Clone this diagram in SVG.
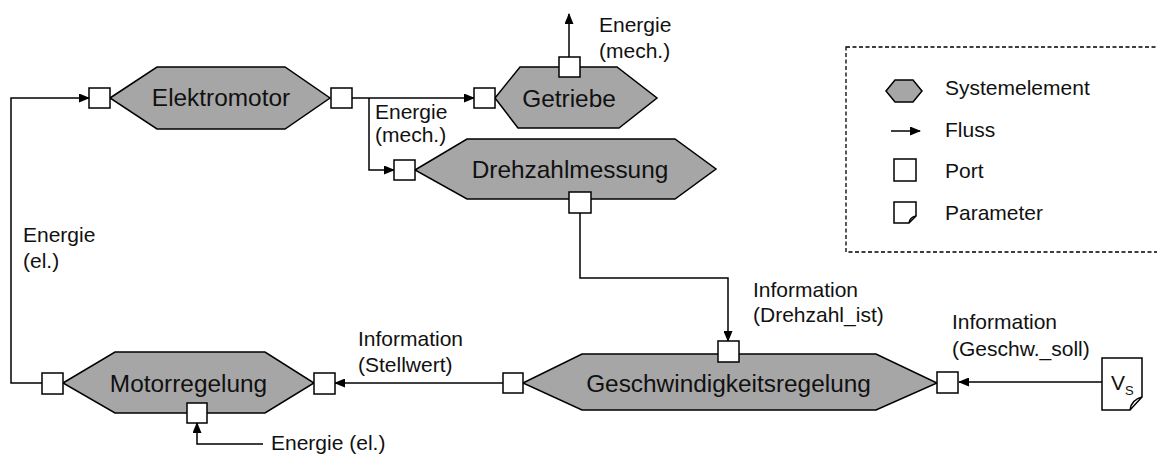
<svg xmlns="http://www.w3.org/2000/svg" width="1157" height="457" viewBox="0 0 1157 457">
  <style>
    .hex { fill: #a6a6a6; stroke: #000; stroke-width: 1.5; stroke-linejoin: miter; }
    .port { fill: #fff; stroke: #000; stroke-width: 1.5; }
    .flow { fill: none; stroke: #000; stroke-width: 1.5; }
    .flow-arrow { fill: none; stroke: #000; stroke-width: 1.5; marker-end: url(#arrow); }
    .name { font-family: "Liberation Sans", Arial, sans-serif; font-size: 24.4px; fill: #111; text-anchor: middle; }
    .label { font-family: "Liberation Sans", Arial, sans-serif; font-size: 21px; fill: #111; }
    .legend-box { fill: none; stroke: #000; stroke-width: 1.3; stroke-dasharray: 4 2.5; }
  </style>
  <defs>
    <marker id="arrow" markerUnits="userSpaceOnUse" markerWidth="11" markerHeight="9" refX="10" refY="4.5" orient="auto">
      <path d="M0,0 L11,4.5 L0,9 Z" fill="#000"/>
    </marker>
  </defs>

  <rect width="1157" height="457" fill="#fff"/>

  <!-- flows between ports -->
  <g id="connectors">
    <path class="flow-arrow" d="M42,383 H11 V98 H89"/>
    <path class="flow-arrow" d="M352,98 H474"/>
    <path class="flow-arrow" d="M369,98 V170 H394"/>
    <path class="flow-arrow" d="M569,57 V14"/>
    <path class="flow-arrow" d="M580,213 V278 H728 V341"/>
    <path class="flow-arrow" d="M503,383 H335"/>
    <path class="flow-arrow" d="M1102,382 H959"/>
    <path class="flow-arrow" d="M263,444 H197 V423"/>
  </g>

  <!-- flow labels -->
  <g id="flow-labels" class="label">
    <text x="23" y="242">Energie</text>
    <text x="23" y="268">(el.)</text>
    <text x="375" y="119">Energie</text>
    <text x="375" y="142">(mech.)</text>
    <text x="599" y="32">Energie</text>
    <text x="599" y="58">(mech.)</text>
    <text x="753" y="297">Information</text>
    <text x="753" y="322">(Drehzahl_ist)</text>
    <text x="952" y="329">Information</text>
    <text x="952" y="356">(Geschw._soll)</text>
    <text x="358" y="346">Information</text>
    <text x="358" y="372">(Stellwert)</text>
    <text x="271" y="450">Energie (el.)</text>
  </g>

  <g id="elektromotor">
    <polygon class="hex" points="110,98 157,67 285,67 330,98 285,129 157,129"/>
    <rect class="port" x="89" y="88" width="21" height="20"/>
    <rect class="port" x="331" y="88" width="21" height="20"/>
    <text class="name" x="221" y="106">Elektromotor</text>
  </g>

  <g id="getriebe">
    <polygon class="hex" points="495,98 520,67 617,67 657,98 619,128 518,128"/>
    <rect class="port" x="474" y="88" width="21" height="20"/>
    <rect class="port" x="559" y="57" width="21" height="20"/>
    <text class="name" x="569" y="107">Getriebe</text>
  </g>

  <g id="drehzahlmessung">
    <polygon class="hex" points="415,170 467,139 675,139 716,169 675,199 467,199"/>
    <rect class="port" x="394" y="160" width="21" height="20"/>
    <rect class="port" x="569" y="192" width="22" height="21"/>
    <text class="name" x="570" y="178">Drehzahlmessung</text>
  </g>

  <g id="geschwindigkeitsregelung">
    <polygon class="hex" points="523,383 582,354 876,354 937,383 876,410 582,410"/>
    <rect class="port" x="503" y="373" width="20" height="20"/>
    <rect class="port" x="718" y="341" width="21" height="21"/>
    <rect class="port" x="937" y="372" width="21" height="21"/>
    <text class="name" x="728.5" y="392">Geschwindigkeitsregelung</text>
  </g>

  <g id="motorregelung">
    <polygon class="hex" points="63,383 115,352 265,352 314,383 265,413 115,413"/>
    <rect class="port" x="42" y="373" width="21" height="21"/>
    <rect class="port" x="314" y="373" width="21" height="21"/>
    <rect class="port" x="187" y="403" width="20" height="20"/>
    <text class="name" x="188.5" y="392">Motorregelung</text>
  </g>

  <g id="parameter-vs">
    <path class="port" d="M1102,358 H1142 V397 L1130,410 H1102 Z"/>
    <path class="flow" d="M1130,410 Q1131,400 1142,397" stroke-width="1.2"/>
    <text class="label" x="1111" y="390">V<tspan font-size="13" dy="5">S</tspan></text>
  </g>

  <g id="legend">
    <rect class="legend-box" x="846" y="47" width="320" height="205"/>
    <polygon class="hex" points="886,91 895,80 913,80 922,91 913,102 895,102" stroke-width="1.2"/>
    <text class="label" x="945" y="95">Systemelement</text>
    <path class="flow-arrow" d="M891,131 H920"/>
    <text class="label" x="945" y="137">Fluss</text>
    <rect class="port" x="894" y="159" width="22" height="22" stroke-width="1.2"/>
    <text class="label" x="945" y="178">Port</text>
    <path class="port" d="M894,202 H916 V216 L909,223 H894 Z" stroke-width="1.2"/>
    <path class="flow" d="M909,223 Q910,217 916,216" stroke-width="1"/>
    <text class="label" x="945" y="220">Parameter</text>
  </g>
</svg>
